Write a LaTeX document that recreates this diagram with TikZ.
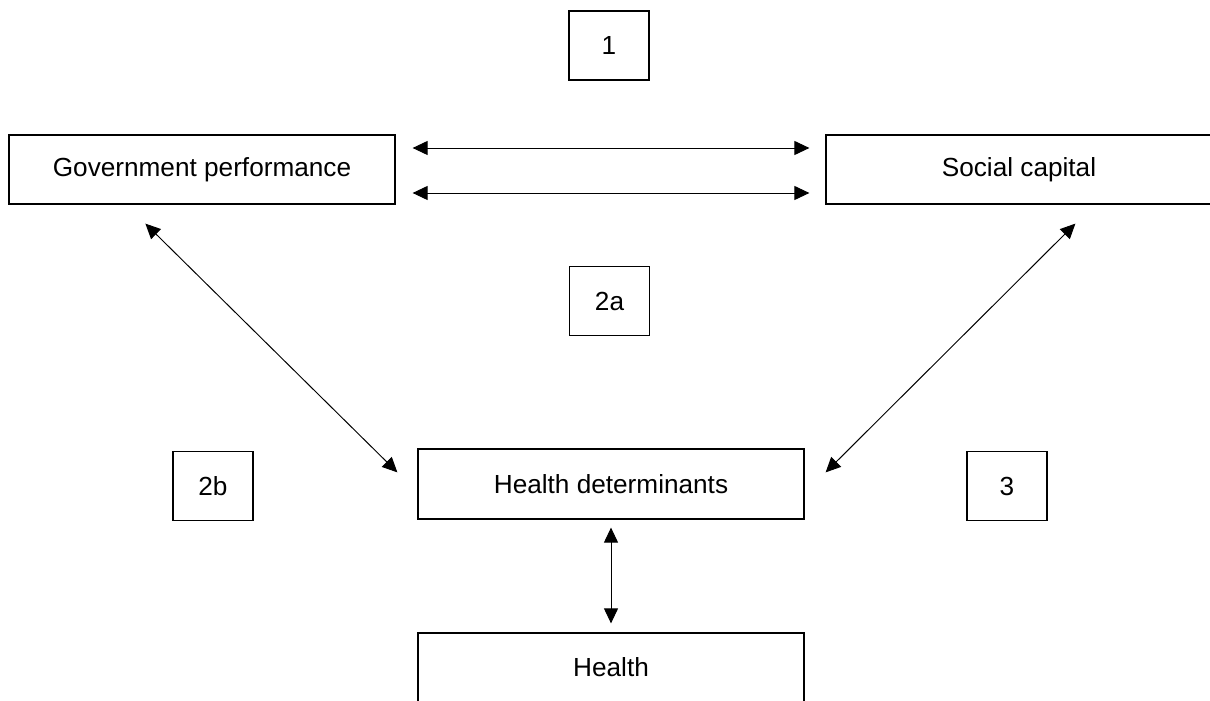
\documentclass[tikz,border=0pt]{standalone}
\usepackage{fontspec}
\setmainfont{Liberation Sans}
\usetikzlibrary{arrows.meta}
\begin{document}
\begin{tikzpicture}[
	wide/.style={draw, line width=0.7pt, minimum width=7.72cm, minimum height=1.38cm, font=\fontsize{14.9}{17}\selectfont},
	tag/.style={draw, line width=0.7pt, minimum width=1.6cm, minimum height=1.38cm, font=\fontsize{14.9}{17}\selectfont},
	link/.style={{Triangle[length=0.3cm,width=0.28cm]}-{Triangle[length=0.3cm,width=0.28cm]}, line width=0.55pt}
	]
	\useasboundingbox (0,0) rectangle (24.2,14);
	\node[wide] at (4.04, 10.61) (gov) {Government performance};
	\node[wide] at (20.38, 10.61) (soc) {Social capital};
	\node[wide, minimum height=1.4cm] at (12.22, 4.32) (det) {Health determinants};
	\node[wide] at (12.22, 0.65) (health) {Health};
	\node[tag] at (12.18, 13.09) (t1) {1};
	\node[tag] at (12.19, 7.98) (t2a) {2a};
	\node[tag] at (4.26, 4.28) (t2b) {2b};
	\node[tag] at (20.14, 4.28) (t3) {3};
	\draw[link, shorten <=0.34cm, shorten >=0.32cm] ([yshift=0.43cm]gov.east) -- ([yshift=0.43cm]soc.west);
	\draw[link, shorten <=0.34cm, shorten >=0.32cm] ([yshift=-0.47cm]gov.east) -- ([yshift=-0.47cm]soc.west);
	\draw[link] ([shift={(2.74,-0.38)}]gov.south west) -- ([shift={(-0.4,-0.48)}]det.north west);
	\draw[link] ([shift={(5.0,-0.38)}]soc.south west) -- ([shift={(0.42,-0.48)}]det.north east);
	\draw[link, shorten <=0.16cm, shorten >=0.18cm] (det.south) -- (health.north);
\end{tikzpicture}
\end{document}
